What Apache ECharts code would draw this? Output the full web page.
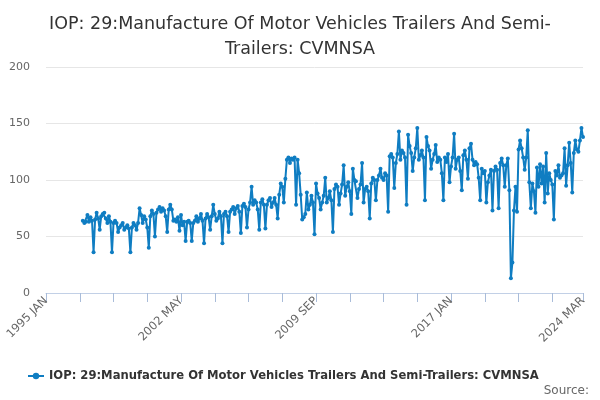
<!DOCTYPE html>
<html>
<head>
<meta charset="utf-8">
<script src="https://cdn.jsdelivr.net/npm/echarts@6/dist/echarts.min.js"></script>
<style>
  html, body { margin: 0; padding: 0; background: #fff; }
  #chart { width: 600px; height: 400px; }
</style>
</head>
<body>
<div id="chart"></div>
<script>
// monthly axis 1995 JAN .. 2024 MAR
const years = [];
for (let y = 1995; y <= 2024; y++) years.push(y);
const months = ['JAN', 'FEB', 'MAR', 'APR', 'MAY', 'JUN', 'JUL', 'AUG', 'SEP', 'OCT', 'NOV', 'DEC'];
const lastLabel = '2024 MAR';

const categories = [];
years.forEach(function (y) {
    months.forEach(function (m) {
        if (categories[categories.length - 1] !== lastLabel) categories.push(y + ' ' + m);
    });
});

// series starts 1997 JAN
const firstLabel = '1997 JAN';
const values = [
    64, 62, 63, 69, 63, 67, 64, 36, 65, 71, 66, 56,        // 1997
    68, 70, 71, 66, 62, 68, 63, 36, 62, 64, 62, 54,        // 1998
    58, 60, 62, 56, 58, 60, 57, 36, 58, 62, 60, 56,        // 1999
    62, 75, 69, 62, 68, 65, 58, 40, 68, 73, 70, 50,        // 2000
    71, 74, 76, 72, 75, 73, 68, 54, 74, 78, 74, 64,        // 2001
    65, 63, 67, 55, 69, 60, 63, 46, 63, 64, 62, 46,        // 2002
    62, 64, 68, 63, 66, 70, 64, 44, 66, 70, 67, 56,        // 2003
    68, 78, 70, 64, 66, 72, 68, 44, 70, 72, 68, 54,        // 2004
    72, 74, 76, 70, 75, 77, 72, 53, 77, 79, 76, 58,        // 2005
    74, 80, 94, 78, 82, 80, 74, 56, 80, 83, 78, 57,        // 2006
    78, 82, 84, 76, 80, 84, 78, 66, 87, 97, 94, 80,        // 2007
    101, 118, 120, 115, 119, 118, 120, 78, 118, 106, 87, 65, // 2008
    67, 70, 89, 74, 78, 86, 80, 52, 97, 88, 84, 74,        // 2009
    80, 86, 102, 80, 84, 90, 82, 54, 92, 96, 94, 78,       // 2010
    88, 96, 113, 86, 94, 98, 90, 70, 110, 100, 99, 84,     // 2011
    92, 96, 115, 80, 92, 94, 90, 66, 97, 102, 100, 82,     // 2012
    100, 104, 110, 102, 100, 106, 104, 72, 121, 123, 120, 93, // 2013
    115, 123, 143, 118, 126, 124, 120, 78, 140, 130, 124, 108, // 2014
    120, 128, 146, 118, 122, 126, 120, 82, 138, 130, 126, 110, // 2015
    118, 123, 131, 116, 120, 118, 106, 82, 120, 116, 123, 98,  // 2016
    112, 120, 141, 110, 118, 120, 108, 91, 122, 126, 118, 101, // 2017
    128, 132, 118, 113, 116, 114, 102, 82, 110, 106, 108, 80,  // 2018
    98, 104, 109, 73, 108, 112, 109, 75, 115, 119, 113, 94,    // 2019
    113, 119, 91, 13, 27, 73, 94, 72, 127, 135, 128, 120,      // 2020
    109, 120, 144, 98, 75, 97, 90, 71, 111, 94, 114, 97,       // 2021
    112, 80, 124, 88, 106, 100, 96, 65, 108, 104, 113, 102,    // 2022
    104, 106, 128, 95, 113, 133, 115, 89, 124, 135, 127, 125,  // 2023
    135, 146, 138                                              // 2024
];

const yTicks = [0, 50, 100, 150, 200];
const tickStep = 22;
const labelStep = 88;
const seriesName = 'IOP: 29:Manufacture Of Motor Vehicles Trailers And Semi-Trailers: CVMNSA';
const titleText = 'IOP: 29:Manufacture Of Motor Vehicles Trailers And Semi-\nTrailers: CVMNSA';

const offset = categories.indexOf(firstLabel);
const seriesData = categories.map(function (c, i) {
    const v = values[i - offset];
    return v === undefined ? null : v;
});
const lastIndex = categories.length - 1;

const chart = echarts.init(document.getElementById('chart'));
chart.setOption({
    animation: false,
    textStyle: { fontFamily: 'DejaVu Sans' },
    title: [{
        text: titleText,
        left: 'center',
        top: 7,
        textStyle: { fontSize: 17.5, fontWeight: 'normal', color: '#333333', lineHeight: 25 }
    }, {
        text: 'Source:',
        right: 6,
        top: 380,
        textStyle: { fontSize: 12, fontWeight: 'normal', color: '#666666' }
    }],
    legend: {
        top: 365,
        left: 22,
        itemWidth: 16,
        itemHeight: 8,
        itemGap: 5,
        textStyle: { fontSize: 11.6, fontWeight: 'bold', color: '#333333' },
        data: [seriesName]
    },
    grid: { left: 46, right: 17, top: 67, bottom: 107 },
    xAxis: {
        type: 'category',
        data: categories,
        boundaryGap: false,
        axisLine: { show: true, lineStyle: { color: '#c2d0e6' } },
        axisTick: {
            show: true,
            interval: function (i) { return i % tickStep === 0 || i === lastIndex; },
            length: 9,
            lineStyle: { color: '#a9bcd9', width: 1 }
        },
        axisLabel: {
            interval: function (i) { return i % labelStep === 0 || i === lastIndex; },
            rotate: 45,
            fontSize: 11.5,
            color: '#666666',
            margin: 6
        }
    },
    yAxis: {
        type: 'value',
        min: yTicks[0],
        max: yTicks[yTicks.length - 1],
        interval: 50,
        axisLine: { show: false },
        axisTick: { show: false },
        axisLabel: { fontSize: 11, color: '#666666', margin: 16 },
        splitLine: { lineStyle: { color: '#e6e6e6' } }
    },
    series: [{
        name: seriesName,
        type: 'line',
        data: seriesData,
        color: '#0f7dc2',
        symbol: 'circle',
        symbolSize: 4,
        showAllSymbol: true,
        lineStyle: { width: 2 },
        connectNulls: false
    }]
});
</script>
</body>
</html>
